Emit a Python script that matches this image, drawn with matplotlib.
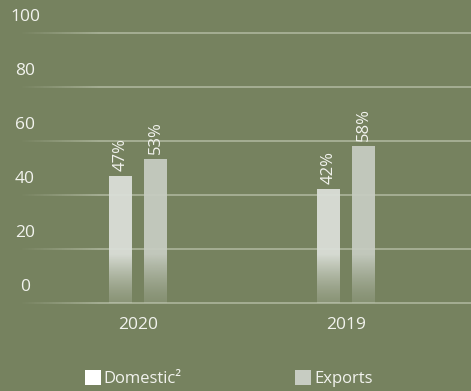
import numpy as np
import matplotlib
matplotlib.use("Agg")
import matplotlib.pyplot as plt
from matplotlib.collections import LineCollection
from matplotlib.patches import Rectangle
import matplotlib.transforms as mtransforms

plt.rcParams['font.family'] = ['Open Sans', 'DejaVu Sans']

# Data
years = ["2020", "2019"]
domestic = [47, 42]
exports = [53, 58]
series_names = ["Domestic\u00b2", "Exports"]
y_ticks = [0, 20, 40, 60, 80, 100]

bg = "#76825f"
dom_color = (0.86, 0.875, 0.85)
exp_color = (0.78, 0.80, 0.76)
text_color = "#f2f3ee"

W, H = 471, 391
fig = plt.figure(figsize=(W / 100, H / 100), dpi=100)
fig.patch.set_facecolor(bg)

# axes: x spans 20..471 px, y: 0 at 303 px, 100 at 33 px from top
ax = fig.add_axes([20 / W, (H - 303) / H, (W - 20) / W, 270 / H])
ax.set_facecolor("none")
ax.axis("off")

x = np.arange(len(years))
bar_w = 23 / 208
offset = 17.5 / 208


def fade_bar(xc, height, color):
    n = 200
    v = np.linspace(0, height, n)
    fade_top = 18.0
    alpha = np.where(v >= fade_top, 0.95, 0.2 + 0.75 * (v / fade_top) ** 1.3)
    img = np.zeros((n, 1, 4))
    img[:, 0, :3] = color
    img[:, 0, 3] = alpha
    ax.imshow(img, extent=[xc - bar_w / 2, xc + bar_w / 2, 0, height],
              origin="lower", aspect="auto", interpolation="bilinear", zorder=2)


for i in range(len(years)):
    for xc, val, col in ((x[i] - offset, domestic[i], dom_color),
                         (x[i] + offset, exports[i], exp_color)):
        fade_bar(xc, val, col)
        ax.annotate(f"{val}%", (xc, val), xytext=(0, 4), textcoords="offset points",
                    rotation=90, ha="center", va="bottom", color=text_color,
                    fontsize=12, zorder=4)

ax.set_xlim(-118 / 208, (451 - 118) / 208)
ax.set_ylim(0, 100)

# gridlines that fade in from the left
xs = np.linspace(ax.get_xlim()[0], ax.get_xlim()[1], 300)
fade_len = 80 / 208
for t in y_ticks:
    segs = [[(xs[k], t), (xs[k + 1], t)] for k in range(len(xs) - 1)]
    mid = (xs[:-1] + xs[1:]) / 2
    a = np.clip((mid - xs[0]) / fade_len, 0, 1) * 0.45
    cols = [(0.9, 0.92, 0.86, ai) for ai in a]
    lc = LineCollection(segs, colors=cols, linewidths=1.3, zorder=1)
    lc.set_clip_on(False)
    ax.add_collection(lc)

# y tick labels sitting above each gridline
trans = mtransforms.blended_transform_factory(fig.transFigure, ax.transData)
trans = mtransforms.offset_copy(trans, fig=fig, x=0, y=16, units="dots")
for t in y_ticks:
    ax.text(25 / W, t, str(t), transform=trans, ha="center", va="center",
            color=text_color, fontsize=12.5, clip_on=False)

# x category labels
xtrans = mtransforms.offset_copy(ax.transData, fig=fig, x=0, y=-22, units="dots")
for i, yr in enumerate(years):
    ax.text(x[i], 0, yr, transform=xtrans, ha="center", va="center",
            color=text_color, fontsize=12.5, clip_on=False)

# legend
fig.patches.append(Rectangle((85 / W, (H - 385) / H), 16 / W, 15 / H,
                             transform=fig.transFigure, facecolor="white",
                             edgecolor="none"))
fig.text(103 / W, (H - 379) / H, series_names[0], ha="left", va="center",
         color=text_color, fontsize=12)
fig.patches.append(Rectangle((295 / W, (H - 385) / H), 16 / W, 15 / H,
                             transform=fig.transFigure, facecolor=exp_color,
                             edgecolor="none"))
fig.text(314 / W, (H - 379) / H, series_names[1], ha="left", va="center",
         color=text_color, fontsize=12)

fig.savefig("out.png", dpi=100, facecolor=bg)
